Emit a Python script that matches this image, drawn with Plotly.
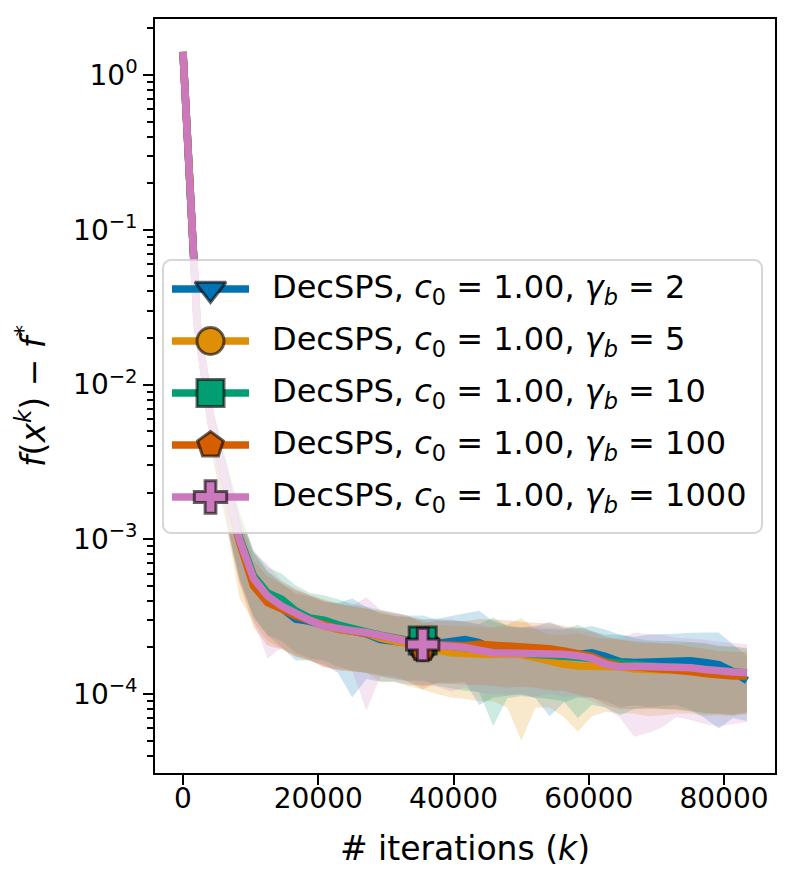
import numpy as np
import plotly.graph_objects as go

# ---------------- data ----------------
iterations = [0, 2085, 4170, 6255, 8340, 10425, 12510, 14595, 16680, 18765,
              20850, 22935, 25020, 27105, 29190, 31275, 33360, 35445, 37530, 39615,
              41700, 43785, 45870, 47955, 50040, 52125, 54210, 56295, 58380, 60465,
              62550, 64635, 66720, 68805, 70890, 72975, 75060, 77145, 79230, 81315,
              83400]

UNIT = 1e-4  # values below are in units of 1e-4

mean_g2 = [14100, 250, 57, 24, 10.0, 5.7, 4.3, 3.6, 3.05, 2.95,
           2.75, 2.62, 2.55, 2.45, 2.25, 2.2, 2.15, 2.08, 2.12, 2.18,
           2.25, 2.15, 1.95, 1.88, 1.85, 1.84, 1.82, 1.78, 1.8, 1.85,
           1.75, 1.62, 1.6, 1.62, 1.64, 1.65, 1.64, 1.6, 1.55, 1.4,
           1.22]
std_g2 = [0, 70, 19, 10, 4.5, 2.5, 1.9, 1.6, 1.4, 1.3,
          1.2, 1.25, 1.6, 1.2, 1.05, 1.0, 1.0, 0.95, 0.95, 1.0,
          1.05, 1.3, 1.0, 0.9, 0.85, 0.9, 1.1, 0.9, 0.85, 0.9,
          0.85, 0.8, 0.75, 0.8, 0.8, 0.8, 0.85, 0.9, 0.95, 0.7,
          0.55]

mean_g5 = [14100, 250, 58, 24, 10.2, 5.6, 4.2, 3.65, 3.25, 3.0,
           2.75, 2.62, 2.55, 2.47, 2.3, 2.2, 2.12, 2.02, 1.9, 1.85,
           1.83, 1.8, 1.8, 1.82, 1.8, 1.72, 1.62, 1.56, 1.52, 1.52,
           1.52, 1.5, 1.45, 1.42, 1.43, 1.45, 1.45, 1.42, 1.38, 1.37,
           1.37]
std_g5 = [0, 70, 21, 10, 6.0, 2.7, 2.0, 1.7, 1.5, 1.35,
          1.25, 1.2, 1.15, 1.1, 1.1, 1.0, 1.0, 0.95, 0.9, 0.9,
          0.9, 0.9, 0.9, 1.0, 1.3, 0.9, 0.8, 0.85, 0.95, 0.8,
          0.75, 0.75, 0.7, 0.7, 0.7, 0.7, 0.7, 0.7, 0.65, 0.65,
          0.62]

mean_g10 = [14100, 250, 58, 24, 10.3, 5.8, 4.5, 4.1, 3.45, 3.1,
            3.0, 2.8, 2.62, 2.52, 2.4, 2.3, 2.22, 2.22, 2.08, 2.04,
            2.0, 1.93, 1.87, 1.84, 1.82, 1.8, 1.78, 1.75, 1.75, 1.7,
            1.62, 1.58, 1.55, 1.52, 1.5, 1.5, 1.47, 1.44, 1.4, 1.38,
            1.37]
std_g10 = [0, 70, 20, 10, 4.6, 2.7, 2.1, 1.9, 1.6, 1.4,
           1.35, 1.3, 1.2, 1.15, 1.1, 1.05, 1.0, 1.0, 0.95, 0.95,
           0.95, 0.9, 1.25, 0.9, 0.85, 0.85, 0.85, 0.85, 1.05, 0.85,
           0.8, 0.85, 0.75, 0.7, 0.7, 0.7, 0.7, 0.7, 0.65, 0.65,
           0.6]

mean_g100 = [14100, 250, 56, 23, 9.6, 5.0, 3.9, 3.55, 3.2, 3.0,
             2.8, 2.65, 2.55, 2.48, 2.38, 2.3, 2.2, 1.97, 2.08, 2.06,
             2.05, 2.1, 2.08, 2.05, 2.02, 2.0, 1.96, 1.9, 1.84, 1.75,
             1.6, 1.52, 1.5, 1.48, 1.46, 1.44, 1.4, 1.36, 1.32, 1.31,
             1.31]
std_g100 = [0, 72, 20, 10, 4.4, 2.3, 1.85, 1.6, 1.45, 1.35,
            1.3, 1.2, 1.15, 1.1, 1.05, 1.0, 1.0, 0.9, 0.9, 0.9,
            0.9, 0.95, 0.95, 0.95, 0.9, 0.9, 0.9, 0.85, 0.85, 0.8,
            0.75, 0.72, 0.7, 0.68, 0.66, 0.65, 0.62, 0.6, 0.58, 0.57,
            0.57]

mean_g1000 = [14100, 250, 57, 24, 10.0, 5.6, 4.3, 3.7, 3.3, 3.0,
              2.75, 2.63, 2.57, 2.5, 2.4, 2.3, 2.2, 2.09, 2.07, 2.04,
              2.0, 1.92, 1.85, 1.84, 1.84, 1.86, 1.86, 1.81, 1.77, 1.7,
              1.56, 1.5, 1.51, 1.51, 1.51, 1.51, 1.48, 1.44, 1.4, 1.39,
              1.38]
std_g1000 = [0, 75, 20, 10, 4.6, 2.6, 2.6, 1.7, 1.5, 1.35,
             1.25, 1.2, 1.15, 1.72, 1.1, 1.05, 1.0, 0.95, 0.95, 1.0,
             0.9, 0.9, 0.85, 0.85, 0.85, 0.9, 0.85, 0.85, 0.8, 0.8,
             0.75, 0.8, 0.98, 0.95, 0.9, 0.8, 0.8, 0.8, 0.78, 0.75,
             0.72]

gammas = ["2", "5", "10", "100", "1000"]
colors = ["#0173b2", "#de8f05", "#029e73", "#d55e00", "#cc78bc"]
symbols = ["triangle-down", "circle", "square", "pentagon", "cross"]
means = [mean_g2, mean_g5, mean_g10, mean_g100, mean_g1000]
stds = [std_g2, std_g5, std_g10, std_g100, std_g1000]
MARK_IDX = 17

x_ticks = [0, 20000, 40000, 60000, 80000]
y_ticks = [1e-4, 1e-3, 1e-2, 1e-1, 1]
y_ticktext = ["10<sup>\u22124</sup>", "10<sup>\u22123</sup>", "10<sup>\u22122</sup>",
              "10<sup>\u22121</sup>", "10<sup>0</sup>"]
labels = ["DecSPS, <i>c</i><sub>0</sub> = 1.00, <i>\u03b3</i><sub><i>b</i></sub> = " + g
          for g in gammas]

for arr in means + stds:
    assert len(arr) == len(iterations)

# ---------------- geometry ----------------
W, H = 795, 887
PL, PR, PT, PB = 155, 775, 19, 773
FONT = "DejaVu Sans"
LW = 7.5
MS = 27


def u(px):
    return (px - PL) / (PR - PL)


def v(py):
    return (PB - py) / (PB - PT)


def rgba(hexc, a):
    h = hexc.lstrip("#")
    return "rgba(%d,%d,%d,%.3f)" % (int(h[0:2], 16), int(h[2:4], 16), int(h[4:6], 16), a)


fig = go.Figure()

# std bands
for m, s, c in zip(means, stds, colors):
    up = [(a + b) * UNIT for a, b in zip(m, s)]
    lo = [(a - b) * UNIT for a, b in zip(m, s)]
    fig.add_trace(go.Scatter(x=iterations + iterations[::-1], y=up + lo[::-1],
                             fill="toself", fillcolor=rgba(c, 0.2), mode="lines",
                             line=dict(width=0), hoverinfo="skip", showlegend=False))
# mean lines
for m, c in zip(means, colors):
    fig.add_trace(go.Scatter(x=iterations, y=[a * UNIT for a in m], mode="lines",
                             line=dict(color=c, width=LW), showlegend=False))
# markers (one per curve)
for m, c, sym in zip(means, colors, symbols):
    fig.add_trace(go.Scatter(x=[iterations[MARK_IDX]], y=[m[MARK_IDX] * UNIT], mode="markers",
                             marker=dict(symbol=sym, size=MS, color=c,
                                         line=dict(color="rgba(0,0,0,0.6)", width=3)),
                             showlegend=False))

# ---------------- custom legend (overlay axes) ----------------
bx0, bx1, by0, by1, rad = 163, 762, 260, 533, 8
pts = []
for cx, cy, a0 in [(bx1 - rad, by0 + rad, -90), (bx1 - rad, by1 - rad, 0),
                   (bx0 + rad, by1 - rad, 90), (bx0 + rad, by0 + rad, 180)]:
    for t in np.linspace(a0, a0 + 90, 8):
        pts.append((cx + rad * np.cos(np.radians(t)), cy + rad * np.sin(np.radians(t))))
pts.append(pts[0])
fig.add_trace(go.Scatter(x=[u(p[0]) for p in pts], y=[v(p[1]) for p in pts],
                         xaxis="x2", yaxis="y2", mode="lines", fill="toself",
                         fillcolor="rgba(255,255,255,0.8)",
                         line=dict(color="rgba(204,204,204,0.8)", width=2),
                         hoverinfo="skip", showlegend=False))
row_y = [289, 341, 393, 445, 497]
for yc, c, sym, lab in zip(row_y, colors, symbols, labels):
    fig.add_trace(go.Scatter(x=[u(172), u(249)], y=[v(yc), v(yc)], xaxis="x2", yaxis="y2",
                             mode="lines", line=dict(color=c, width=LW),
                             hoverinfo="skip", showlegend=False))
    fig.add_trace(go.Scatter(x=[u(210.5)], y=[v(yc)], xaxis="x2", yaxis="y2", mode="markers",
                             marker=dict(symbol=sym, size=MS, color=c,
                                         line=dict(color="rgba(0,0,0,0.6)", width=3)),
                             hoverinfo="skip", showlegend=False))
    fig.add_annotation(x=u(270), y=v(yc), xref="paper", yref="paper", text=lab,
                       showarrow=False, xanchor="left", yanchor="middle",
                       font=dict(family=FONT, size=32, color="black"))

minor_y = []
for e in range(-5, 1):
    for k in range(2, 10):
        minor_y.append(k * 10.0 ** e)

axis_common = dict(showline=True, linewidth=2.2, linecolor="black", mirror=True,
                   ticks="outside", ticklen=9.7, tickwidth=2.2, tickcolor="black",
                   showgrid=False, zeroline=False, automargin=False,
                   tickfont=dict(family=FONT, size=28, color="black"))

fig.update_layout(
    width=W, height=H,
    margin=dict(l=PL, r=W - PR, t=PT, b=H - PB),
    paper_bgcolor="white", plot_bgcolor="white",
    showlegend=False,
    font=dict(family=FONT, color="black"),
    xaxis=dict(range=[-4140, 87540], tickmode="array", tickvals=x_ticks,
               ticktext=[str(t) for t in x_ticks], ticklabelstandoff=-10,
               title=dict(text="# iterations (<i>k</i>)", font=dict(family=FONT, size=33),
                          standoff=22),
               **axis_common),
    yaxis=dict(type="log", range=[-4.51, 0.362], tickmode="array", tickvals=y_ticks,
               ticktext=y_ticktext,
               minor=dict(tickmode="array", tickvals=minor_y, ticks="outside", ticklen=5.6,
                          tickwidth=1.7, tickcolor="black", showgrid=False),
               title=dict(text="<i>f</i>(<i>x</i><sup><i>k</i></sup>) \u2212 <i>f</i><sup>*</sup>",
                          font=dict(family=FONT, size=33), standoff=18),
               **axis_common),
    xaxis2=dict(overlaying="x", anchor="y2", range=[0, 1], visible=False, fixedrange=True),
    yaxis2=dict(overlaying="y", anchor="x2", range=[0, 1], visible=False, fixedrange=True),
)

fig.write_html("out.html", config={"displayModeBar": False},
               post_script="document.body.style.margin='0';document.body.style.padding='0';")
